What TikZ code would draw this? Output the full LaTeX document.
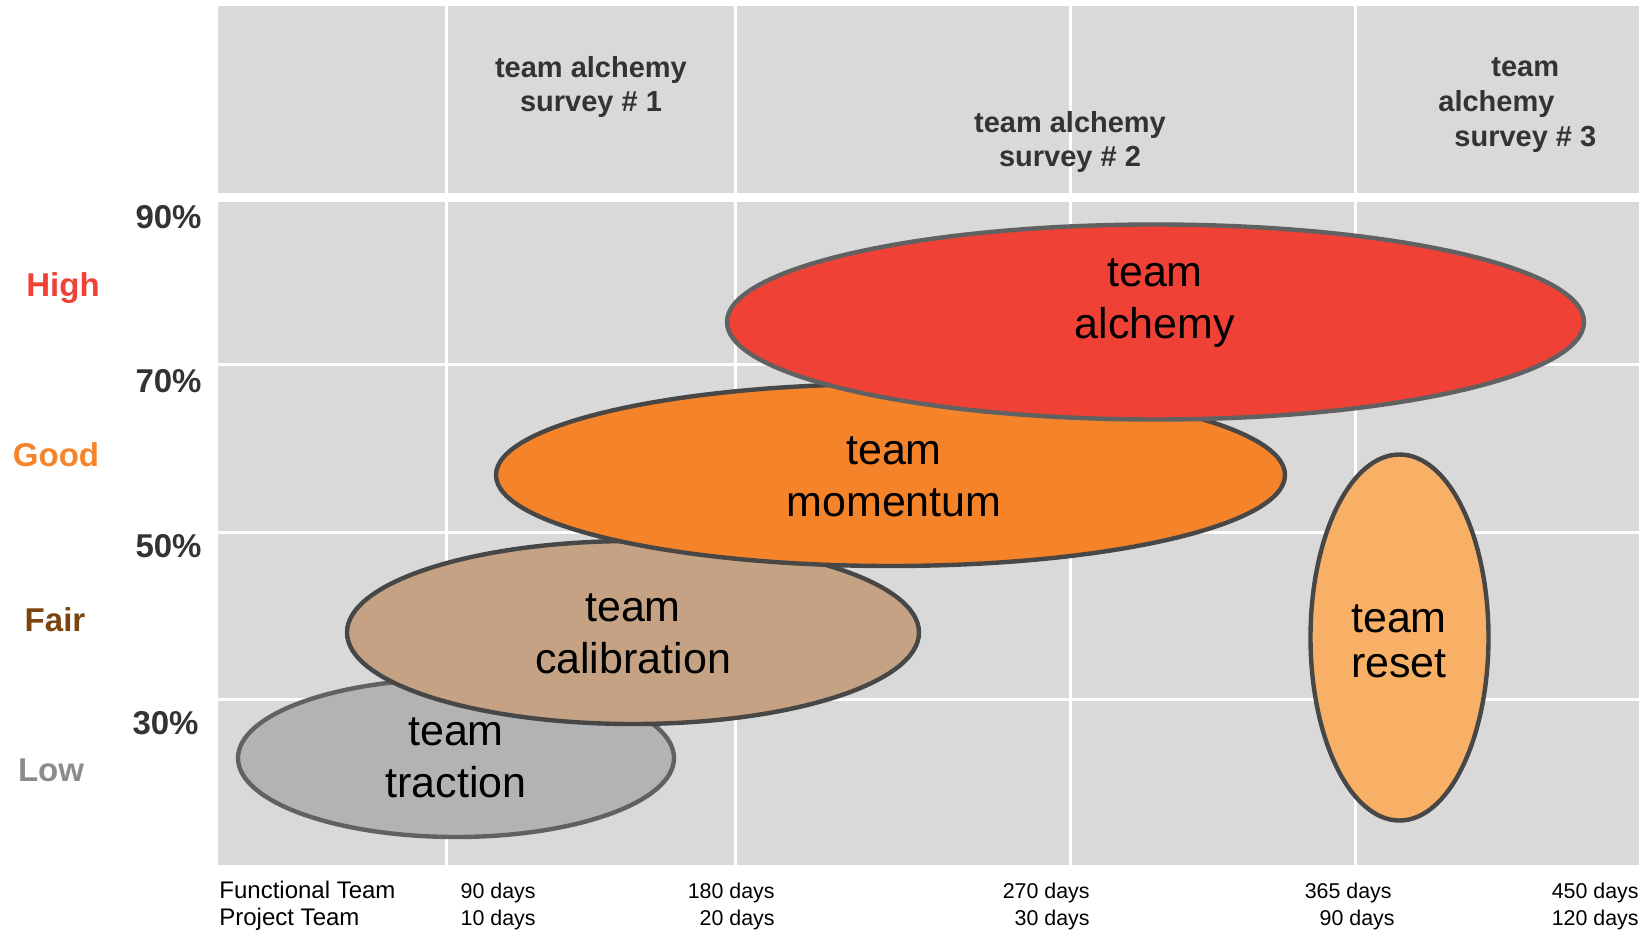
\documentclass[tikz,border=0pt]{standalone}
\usepackage{fontspec}
\setmainfont{Liberation Sans}
\usetikzlibrary{shapes.geometric}

\definecolor{panel}{HTML}{D9D9D9}
\definecolor{hdrtext}{HTML}{333333}
\definecolor{alchemyred}{HTML}{EF4136}
\definecolor{momentumorange}{HTML}{F4832A}
\definecolor{calibtan}{HTML}{C4A283}
\definecolor{tractiongray}{HTML}{B3B3B3}
\definecolor{resetorange}{HTML}{F8B066}
\definecolor{rimdark}{HTML}{474747}
\definecolor{rimlight}{HTML}{616161}
\definecolor{fairbrown}{HTML}{7B4510}
\definecolor{lowgray}{HTML}{8C8C8C}

\begin{document}
\begin{tikzpicture}[x=0.5pt,y=-0.5pt,
  blob/.style={ellipse, inner sep=0pt, outer sep=0pt, line width=2.2pt},
  blobtext/.style={align=center, text=black, inner sep=0pt,
    font=\fontsize{21.5}{26}\selectfont},
  hdr/.style={align=center, text=hdrtext, inner sep=0pt,
    font=\bfseries\fontsize{14.5}{17.3}\selectfont},
  pct/.style={anchor=east, text=hdrtext, inner sep=0pt,
    font=\bfseries\fontsize{16.5}{19}\selectfont},
  level/.style={inner sep=0pt, font=\bfseries\fontsize{16.5}{19}\selectfont},
  rowname/.style={anchor=mid west, inner sep=0pt, text=black,
    font=\fontsize{12}{14}\selectfont},
  daylbl/.style={anchor=mid east, inner sep=0pt, text=black,
    font=\fontsize{10.7}{13}\selectfont},
  gridline/.style={draw=white, line width=1.5pt}
]
\useasboundingbox (0,0) rectangle (1645,931);

% grey panel with header band and body
\fill[panel] (218,5.7) rectangle (1639,865);
\foreach \gx in {446,735,1070.5,1355}
  \draw[gridline] (\gx,5.7) -- (\gx,865);
\foreach \gy in {364,532,699}
  \draw[gridline] (218,\gy) -- (1639,\gy);
\fill[white] (218,193.3) rectangle (1639,201.7);

% header texts
\node[hdr] (s1) at (591,87) {team alchemy\\survey \# 1};
\node[hdr] (s2) at (1070,142) {team alchemy\\survey \# 2};
\node[hdr, align=left, anchor=west] (s3) at (1438,105)
  {\hspace*{26.5pt}team\\alchemy\\\hspace*{8pt}survey \# 3};

% percentage scale
\node[pct] (p90) at (202,217) {90\%};
\node[pct] (p70) at (202,381.5) {70\%};
\node[pct] (p50) at (202,546) {50\%};
\node[pct] (p30) at (199,723.5) {30\%};

% qualitative levels
\node[level, text=alchemyred] (lhigh) at (63,288) {High};
\node[level, text=momentumorange] (lgood) at (56,455) {Good};
\node[level, text=fairbrown] (lfair) at (55,620) {Fair};
\node[level, text=lowgray] (llow) at (51,770) {Low};

% stages, back to front
\node[blob, fill=tractiongray, draw=rimlight,
  minimum width=218pt, minimum height=79pt] (traction) at (456,758) {};
\node[blobtext] (ttraction) at (456,758) {team\\traction};

\node[blob, fill=calibtan, draw=rimdark,
  minimum width=286pt, minimum height=91.5pt] (calibration) at (633,632.5) {};
\node[blobtext] (tcalibration) at (633,634) {team\\calibration};

\node[blob, fill=momentumorange, draw=rimdark,
  minimum width=394.5pt, minimum height=91pt] (momentum) at (890.5,475) {};
\node[blobtext] (tmomentum) at (894,477) {team\\momentum};

\node[blob, fill=alchemyred, draw=rimlight,
  minimum width=428.5pt, minimum height=97.5pt] (alchemy) at (1155.5,322) {};
\node[blobtext] (talchemy) at (1155,303) {team\\alchemy};

\node[blob, fill=resetorange, draw=rimdark,
  minimum width=89pt, minimum height=183pt] (reset) at (1399.5,637.5) {};
\node[blobtext, font=\fontsize{21.5}{22.5}\selectfont] (treset) at (1399,641) {team\\reset};

% time axis
\node[rowname] (functional) at (219,893) {Functional Team};
\node[rowname] (project) at (219,920) {Project Team};

\node[daylbl] (f90) at (536,893) {90 days};
\node[daylbl] (p10) at (536,920) {10 days};
\node[daylbl] (f180) at (775,893) {180 days};
\node[daylbl] (p20) at (775,920) {20 days};
\node[daylbl] (f270) at (1090,893) {270 days};
\node[daylbl] (p30d) at (1090,920) {30 days};
\node[daylbl] (f365) at (1392,893) {365 days};
\node[daylbl] (p90d) at (1395,920) {90 days};
\node[daylbl] (f450) at (1639,893) {450 days};
\node[daylbl] (p120) at (1639,920) {120 days};
\end{tikzpicture}
\end{document}
